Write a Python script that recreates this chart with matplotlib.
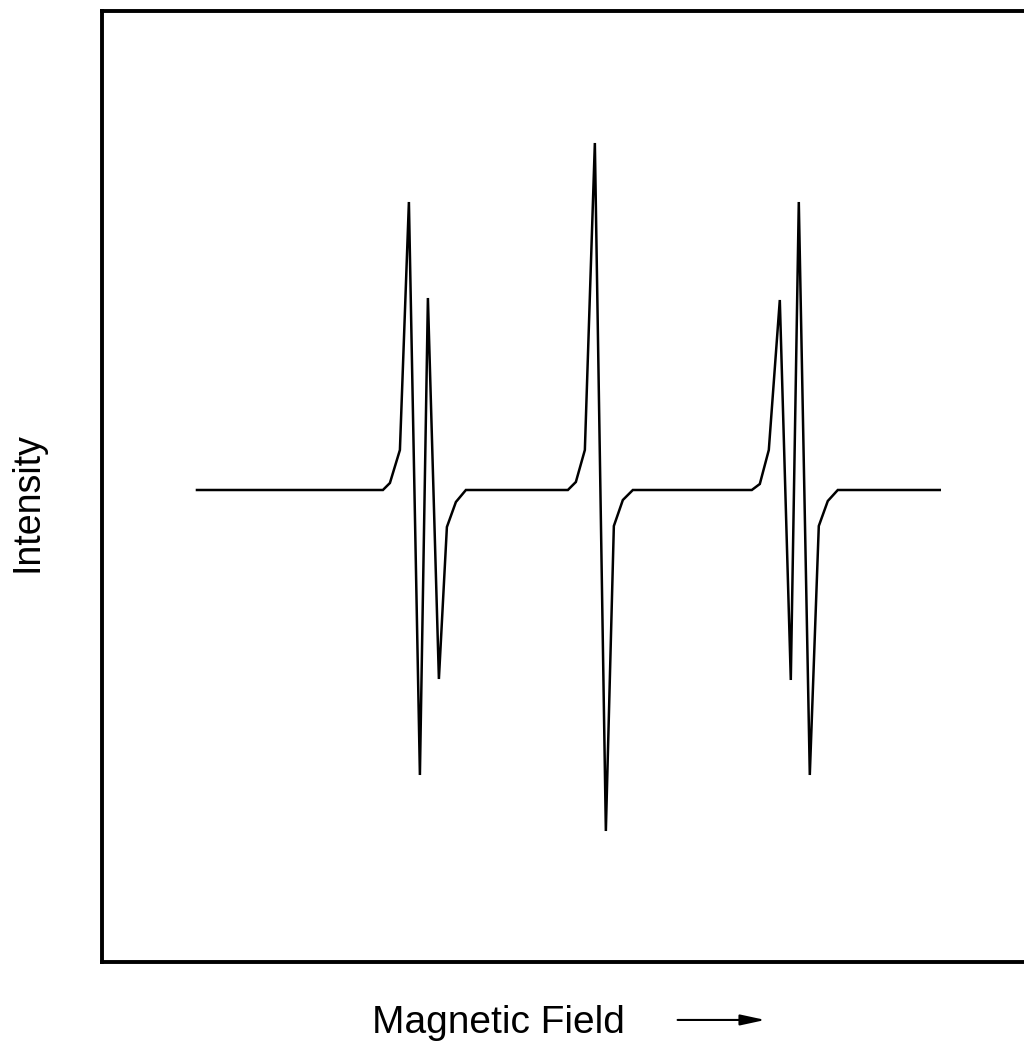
import numpy as np
import matplotlib
matplotlib.use("Agg")
from matplotlib import pyplot as plt

# EPR-style first-derivative spectrum, three line groups
# field positions (arbitrary units) and derivative intensity (baseline = 0)
field_1 = [197, 383, 390, 400, 409, 420, 428, 439, 447, 456, 466]
inten_1 = [0, 0, 7, 40, 288, -285, 192, -189, -37, -12, 0]

field_2 = [568, 576, 585, 595, 606, 614, 623, 633]
inten_2 = [0, 8, 40, 347, -341, -36, -10, 0]

field_3 = [752, 760, 769, 780, 791, 799, 810, 819, 828, 838, 940]
inten_3 = [0, 6, 40, 190, -190, 288, -285, -36, -11, 0, 0]

field = np.array(field_1 + field_2 + field_3)
inten = np.array(inten_1 + inten_2 + inten_3)

plt.rcParams['font.family'] = ['Liberation Sans', 'DejaVu Sans']

fig = plt.figure(figsize=(10.24, 10.46), dpi=100)
ax = fig.add_axes([0.0996, 0.0803, 0.906, 0.9092])

ax.plot(field, inten, color='black', lw=1.8, solid_joinstyle='miter')
ax.set_xlim(102, 1030)
ax.set_ylim(-472, 479)

ax.set_xticks([])
ax.set_yticks([])
for s in ax.spines.values():
    s.set_linewidth(2.8)

fig.text(0.027, 0.520, 'Intensity', rotation=90, fontsize=27,
         ha='center', va='center')
fig.text(0.363, 0.0124, 'Magnetic Field', fontsize=28,
         ha='left', va='baseline')
# field direction arrow
fig.add_artist(matplotlib.patches.FancyArrowPatch(
    (0.659, 0.0249), (0.750, 0.0249), transform=fig.transFigure,
    arrowstyle='-|>,head_length=6,head_width=1.3', color='black',
    lw=1.5, mutation_scale=2.5))

fig.savefig('out.png', dpi=100, facecolor='white')
